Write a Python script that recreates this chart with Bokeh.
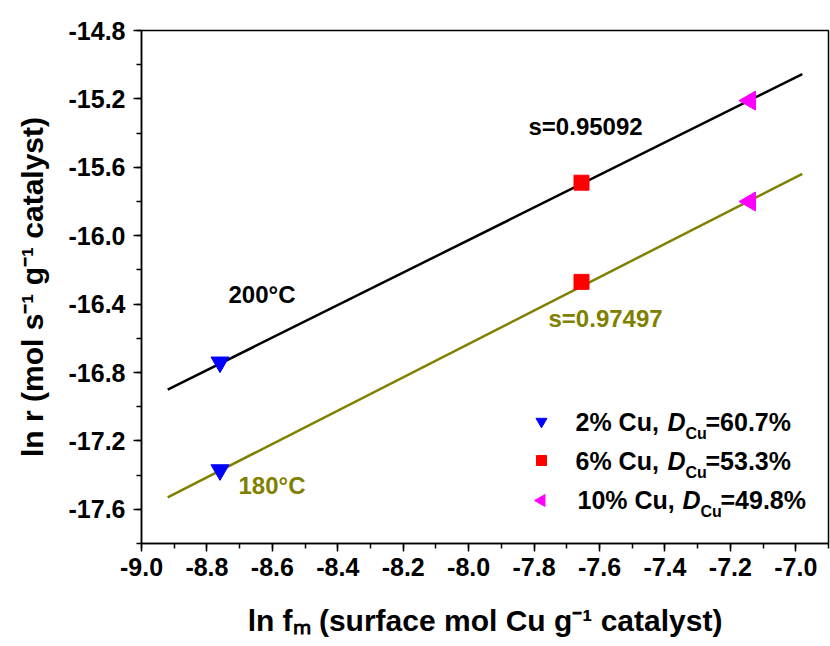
from bokeh.plotting import figure
from bokeh.models import Label, SingleIntervalTicker, Range1d, ColumnDataSource, NumeralTickFormatter
from bokeh.embed import file_html
from bokeh.resources import INLINE
import numpy as np

# ---- data ----
cat_labels = ["2% Cu,", "6% Cu,", "10% Cu,"]
disp_labels = ["=60.7%", "=53.3%", "=49.8%"]
ln_fm = [-8.76, -7.655, -7.14]
ln_r_200 = [-16.74, -15.69, -15.21]
ln_r_180 = [-17.37, -16.27, -15.80]
fit_x = [-8.92, -6.98]
slope_200, icpt_200 = 0.95092, -8.418
slope_180, icpt_180 = 0.97497, -8.833

FONT = "Liberation Sans"
OLIVE = "#808000"

X0, X1, Y0, Y1 = -9.0, -6.9, -17.8, -14.8
L, R, T, B = 141, 828, 30, 543

def px2x(px):
    return X0 + (px - L) / (R - L) * (X1 - X0)

def px2y(py):
    return Y1 - (py - T) / (B - T) * (Y1 - Y0)

p = figure(width=830, height=646, x_range=Range1d(X0, X1), y_range=Range1d(Y0, Y1),
           output_backend="svg", toolbar_location=None,
           min_border_left=L, min_border_right=830 - R, min_border_top=T, min_border_bottom=646 - B)
p.xgrid.visible = False
p.ygrid.visible = False
p.outline_line_color = "black"
p.outline_line_width = 1.5
p.background_fill_color = "white"
p.border_fill_color = "white"

# fit lines
fx = np.array(fit_x)
p.line(fx, slope_200 * fx + icpt_200, line_color="black", line_width=2.5)
p.line(fx, slope_180 * fx + icpt_180, line_color=OLIVE, line_width=2.5)

markers = ["inverted_triangle", "square", "triangle"]
colors = ["#0000FF", "#FF0000", "#FF00FF"]
sizes = [18, 15, 19]
leg_sizes = [11, 10, 12]
angles = [0, 0, np.pi / 2]
for i in range(3):
    src = ColumnDataSource(dict(x=[ln_fm[i], ln_fm[i]], y=[ln_r_200[i], ln_r_180[i]]))
    p.scatter("x", "y", source=src, marker=markers[i], size=sizes[i], angle=angles[i],
              fill_color=colors[i], line_color=colors[i])

# axes
for ax, interval in ((p.xaxis, 0.2), (p.yaxis, 0.4)):
    ax.ticker = SingleIntervalTicker(interval=interval, num_minor_ticks=2)
    ax.formatter = NumeralTickFormatter(format="0.0")
    ax.axis_line_width = 1.5
    ax.major_tick_line_width = 1.5
    ax.minor_tick_line_width = 1.5
    ax.major_tick_in = 0
    ax.major_tick_out = 8
    ax.minor_tick_in = 0
    ax.minor_tick_out = 5
    ax.major_label_text_font = FONT
    ax.major_label_text_font_style = "bold"
    ax.major_label_text_font_size = "25px"
    ax.major_label_text_color = "black"
    ax.axis_label_text_font = FONT
    ax.axis_label_text_font_style = "bold"
    ax.axis_label_text_font_size = "30px"
    ax.axis_label_text_color = "black"

p.yaxis.major_label_standoff = 8
p.xaxis.major_label_standoff = 6
p.yaxis.axis_label = "ln r (mol s\u207b\u00b9 g\u207b\u00b9 catalyst)"
p.xaxis.axis_label = "ln f\u2098 (surface mol Cu g\u207b\u00b9 catalyst)"
p.yaxis.axis_label_standoff = 17
p.xaxis.axis_label_standoff = 25

# annotations
def add_label(text, px, py, color="black", size="24px", style="bold", align="left"):
    p.add_layout(Label(x=px2x(px), y=px2y(py), text=text, text_color=color,
                       text_font=FONT, text_font_size=size, text_font_style=style,
                       text_baseline="middle", text_align=align))

add_label("s=0.95092", 528, 126)
add_label("200\u00b0C", 228, 294)
add_label("s=0.97497", 548, 318, color=OLIVE)
add_label("180\u00b0C", 238, 485, color=OLIVE)

# legend (markers placed at legend layout positions, texts as labels)
leg_mx = 541
leg_my = [421, 460, 500]
row_y = [421, 460, 499]
txt_x = [575, 575, 577]
d_x = [667, 667, 682]
for i in range(3):
    p.scatter([px2x(leg_mx)], [px2y(leg_my[i])], marker=markers[i], size=leg_sizes[i],
              angle=angles[i], fill_color=colors[i], line_color=colors[i])
    add_label(cat_labels[i], txt_x[i], row_y[i], size="25px")
    add_label("D", d_x[i], row_y[i], size="25px", style="bold italic")
    add_label("Cu", d_x[i] + 18, row_y[i] + 12, size="16px")
    add_label(disp_labels[i], d_x[i] + 38, row_y[i], size="25px")

open("out.html", "w").write(file_html(p, INLINE))
